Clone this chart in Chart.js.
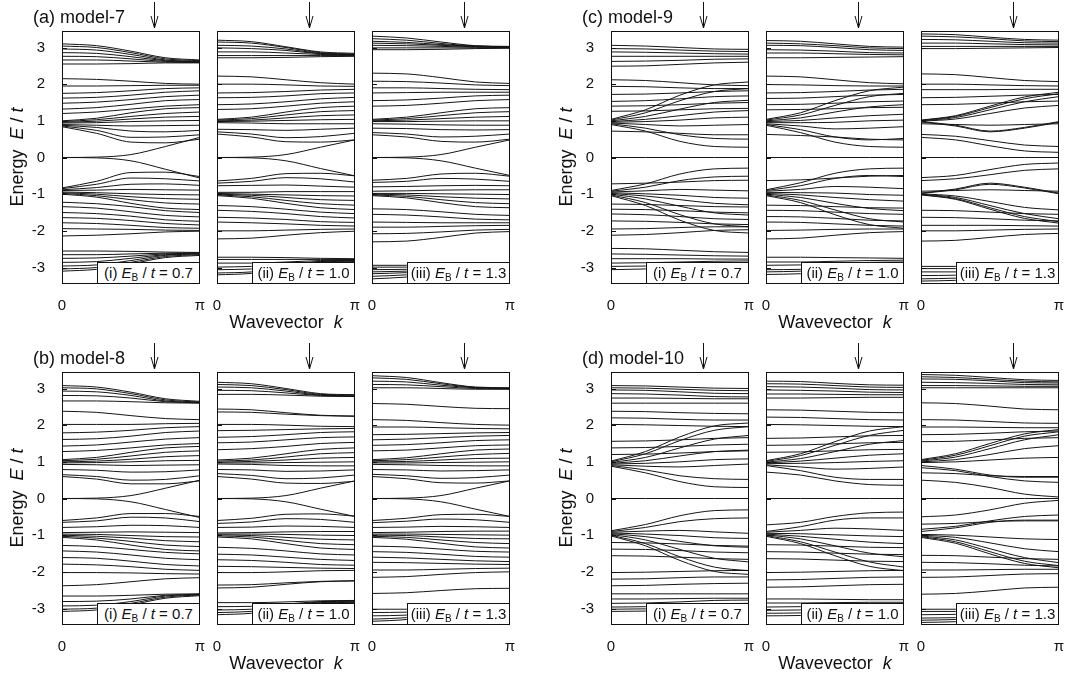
<!DOCTYPE html>
<html><head><meta charset="utf-8">
<script src="https://cdn.jsdelivr.net/npm/chart.js@4"></script>
<style>
html,body{margin:0;padding:0;background:#fff;}
body{width:1072px;height:683px;position:relative;overflow:hidden;font-family:"Liberation Sans",Arial,Helvetica,sans-serif;color:#111;}
canvas{position:absolute;}
.t{position:absolute;white-space:nowrap;line-height:1;z-index:6;}
.title{font-size:18px;}
.ylab{font-size:18px;transform:translate(-50%,-50%) rotate(-90deg);}
.xlab{font-size:18px;transform:translate(-50%,-50%);}
.box{position:absolute;background:#fff;border:1px solid #111;box-sizing:border-box;font-size:15px;line-height:20px;text-align:center;z-index:5;white-space:nowrap;}
.box sub{font-size:10px;vertical-align:-3px;line-height:0;}
</style></head><body>
<script>
// ---------- data ----------
const kPoints = [0, 0.7854, 1.5708, 2.3562, 3.1416];
const kTickValues = [0, 3.14159265];
const kTickLabels = ['0', 'π'];
const eTicks = [-3, -2, -1, 0, 1, 2, 3];
const arrowK = 2.0944;
const panelNames = ['(i)', '(ii)', '(iii)'];
const ebValues = ['0.7', '1.0', '1.3'];
const groupTitles = ['(a) model-7', '(c) model-9', '(b) model-8', '(d) model-10'];

const model7_EB07 = [
[3.10,3.05,2.90,2.72,2.66],[3.04,3.00,2.86,2.69,2.64],[2.96,2.93,2.81,2.66,2.62],[2.86,2.84,2.75,2.64,2.61],
[2.76,2.75,2.69,2.62,2.60],[2.66,2.66,2.63,2.60,2.59],[2.55,2.55,2.56,2.58,2.58],[2.15,2.13,2.08,2.02,2.00],
[1.95,1.95,1.96,1.97,1.97],[1.75,1.77,1.82,1.88,1.90],[1.62,1.64,1.70,1.78,1.82],[1.48,1.51,1.58,1.66,1.70],
[1.32,1.36,1.45,1.55,1.58],[1.20,1.24,1.32,1.40,1.44],[1.00,1.07,1.22,1.33,1.36],[0.98,1.03,1.12,1.20,1.24],
[0.96,0.99,1.05,1.10,1.12],[0.94,0.95,0.98,1.00,1.01],[0.90,0.88,0.86,0.87,0.88],[0.88,0.82,0.72,0.70,0.74],
[0.86,0.74,0.55,0.56,0.62],[0.84,0.66,0.42,0.40,0.50],[0.00,0.01,0.08,0.30,0.55],
[0.00,-0.01,-0.09,-0.32,-0.56],[-0.83,-0.65,-0.41,-0.40,-0.52],[-0.85,-0.73,-0.56,-0.58,-0.64],[-0.88,-0.82,-0.73,-0.72,-0.76],
[-0.90,-0.89,-0.87,-0.88,-0.89],[-0.94,-0.96,-0.99,-1.01,-1.02],[-0.96,-1.00,-1.07,-1.12,-1.14],[-0.98,-1.04,-1.15,-1.24,-1.27],
[-1.00,-1.08,-1.25,-1.38,-1.42],[-1.22,-1.26,-1.34,-1.45,-1.50],[-1.34,-1.38,-1.48,-1.58,-1.62],[-1.50,-1.53,-1.60,-1.70,-1.74],
[-1.64,-1.66,-1.72,-1.80,-1.84],[-1.78,-1.80,-1.85,-1.91,-1.93],[-1.94,-1.95,-1.96,-1.98,-1.99],[-2.14,-2.12,-2.08,-2.03,-2.01],
[-2.55,-2.55,-2.56,-2.58,-2.59],[-2.65,-2.65,-2.63,-2.61,-2.60],[-2.75,-2.74,-2.69,-2.63,-2.61],[-2.86,-2.84,-2.75,-2.65,-2.62],
[-2.96,-2.93,-2.81,-2.67,-2.63],[-3.04,-3.00,-2.86,-2.70,-2.65],[-3.10,-3.05,-2.90,-2.73,-2.67]
];
const model7_EB10 = [
[3.20,3.16,3.02,2.88,2.84],[3.15,3.12,3.00,2.86,2.82],[3.06,3.04,2.96,2.84,2.81],[2.99,2.97,2.92,2.83,2.80],
[2.88,2.88,2.85,2.81,2.79],[2.78,2.78,2.78,2.78,2.78],[2.72,2.72,2.73,2.75,2.76],[2.22,2.20,2.12,2.04,2.00],
[2.00,2.00,1.98,1.95,1.94],[1.76,1.77,1.80,1.84,1.86],[1.63,1.64,1.68,1.74,1.76],[1.44,1.46,1.52,1.60,1.64],
[1.31,1.33,1.40,1.48,1.52],[1.04,1.10,1.24,1.36,1.40],[1.02,1.06,1.16,1.25,1.28],[1.00,1.02,1.08,1.14,1.16],
[0.98,0.99,1.01,1.03,1.04],[0.95,0.94,0.92,0.92,0.92],[0.77,0.76,0.74,0.77,0.80],[0.70,0.64,0.54,0.57,0.66],
[0.64,0.56,0.43,0.42,0.48],[0.00,0.01,0.08,0.28,0.48],
[0.00,-0.01,-0.09,-0.30,-0.50],[-0.64,-0.57,-0.44,-0.43,-0.50],[-0.70,-0.65,-0.55,-0.58,-0.67],[-0.77,-0.76,-0.75,-0.78,-0.81],
[-0.95,-0.95,-0.93,-0.93,-0.93],[-0.98,-1.00,-1.02,-1.04,-1.05],[-1.00,-1.03,-1.09,-1.15,-1.17],[-1.02,-1.07,-1.17,-1.26,-1.30],
[-1.04,-1.11,-1.25,-1.37,-1.42],[-1.31,-1.34,-1.41,-1.49,-1.53],[-1.44,-1.47,-1.53,-1.61,-1.65],[-1.63,-1.65,-1.69,-1.75,-1.77],
[-1.76,-1.78,-1.81,-1.85,-1.87],[-2.00,-2.00,-1.98,-1.96,-1.95],[-2.22,-2.20,-2.12,-2.05,-2.01],[-2.72,-2.72,-2.73,-2.75,-2.76],
[-2.78,-2.78,-2.78,-2.78,-2.78],[-2.88,-2.88,-2.85,-2.81,-2.79],[-2.99,-2.97,-2.92,-2.83,-2.80],[-3.06,-3.04,-2.96,-2.84,-2.81],
[-3.15,-3.12,-3.00,-2.86,-2.82],[-3.20,-3.16,-3.02,-2.88,-2.84]
];
const model7_EB13 = [
[3.31,3.26,3.15,3.05,3.03],[3.24,3.20,3.11,3.04,3.02],[3.17,3.14,3.08,3.03,3.01],[3.12,3.10,3.06,3.02,3.00],
[3.06,3.05,3.03,3.01,3.00],[2.99,2.99,2.99,2.99,2.99],[2.94,2.94,2.95,2.97,2.98],[2.30,2.28,2.18,2.06,2.02],
[2.08,2.07,2.03,1.98,1.96],[1.90,1.90,1.88,1.86,1.85],[1.76,1.77,1.78,1.78,1.78],[1.55,1.57,1.62,1.68,1.70],
[1.40,1.42,1.48,1.55,1.58],[1.04,1.10,1.22,1.33,1.36],[1.02,1.06,1.14,1.22,1.25],[1.00,1.02,1.06,1.10,1.12],
[0.98,0.98,0.99,1.00,1.00],[0.92,0.91,0.89,0.88,0.88],[0.80,0.79,0.76,0.75,0.76],[0.68,0.64,0.56,0.58,0.64],
[0.62,0.56,0.44,0.42,0.50],[0.00,0.01,0.08,0.28,0.48],
[0.00,-0.01,-0.09,-0.29,-0.49],[-0.62,-0.57,-0.45,-0.43,-0.51],[-0.68,-0.65,-0.57,-0.59,-0.65],[-0.80,-0.79,-0.77,-0.76,-0.77],
[-0.92,-0.91,-0.89,-0.88,-0.88],[-0.98,-0.98,-0.99,-1.00,-1.01],[-1.00,-1.02,-1.07,-1.11,-1.13],[-1.02,-1.06,-1.15,-1.23,-1.26],
[-1.04,-1.10,-1.23,-1.34,-1.37],[-1.40,-1.42,-1.48,-1.55,-1.58],[-1.55,-1.57,-1.62,-1.68,-1.70],[-1.76,-1.77,-1.78,-1.78,-1.78],
[-1.90,-1.90,-1.88,-1.86,-1.85],[-2.08,-2.07,-2.03,-1.98,-1.96],[-2.30,-2.28,-2.18,-2.06,-2.02],[-2.94,-2.94,-2.95,-2.97,-2.98],
[-2.99,-2.99,-2.99,-2.99,-2.99],[-3.06,-3.05,-3.03,-3.01,-3.00],[-3.12,-3.10,-3.06,-3.02,-3.00],[-3.17,-3.14,-3.08,-3.03,-3.01],
[-3.24,-3.20,-3.11,-3.04,-3.02],[-3.31,-3.26,-3.15,-3.05,-3.03]
];
const model8_EB07 = [
[3.08,3.04,2.90,2.72,2.65],[3.02,2.99,2.86,2.69,2.63],[2.93,2.91,2.81,2.66,2.62],[2.81,2.80,2.74,2.64,2.61],
[2.66,2.66,2.64,2.61,2.60],[2.38,2.35,2.26,2.18,2.15],[2.02,2.02,2.02,2.04,2.05],[1.79,1.81,1.86,1.93,1.96],
[1.61,1.63,1.70,1.80,1.84],[1.43,1.46,1.54,1.62,1.66],[1.28,1.31,1.38,1.46,1.50],[1.06,1.12,1.26,1.38,1.42],
[1.03,1.07,1.16,1.26,1.30],[1.00,1.02,1.07,1.14,1.17],[0.97,0.98,1.00,1.03,1.04],[0.93,0.92,0.90,0.91,0.92],
[0.79,0.77,0.72,0.73,0.78],[0.65,0.60,0.50,0.52,0.62],[0.60,0.53,0.40,0.40,0.48],[0.00,0.01,0.08,0.28,0.50],
[0.00,-0.01,-0.09,-0.30,-0.52],[-0.60,-0.53,-0.41,-0.41,-0.49],[-0.65,-0.61,-0.51,-0.53,-0.63],[-0.79,-0.77,-0.73,-0.74,-0.79],
[-0.93,-0.92,-0.91,-0.92,-0.93],[-0.97,-0.98,-1.01,-1.04,-1.05],[-1.00,-1.03,-1.08,-1.15,-1.18],[-1.03,-1.08,-1.17,-1.27,-1.31],
[-1.06,-1.13,-1.27,-1.39,-1.43],[-1.28,-1.31,-1.39,-1.47,-1.51],[-1.43,-1.46,-1.54,-1.63,-1.67],[-1.61,-1.63,-1.71,-1.80,-1.84],
[-1.79,-1.81,-1.86,-1.93,-1.96],[-2.02,-2.02,-2.03,-2.05,-2.06],[-2.38,-2.35,-2.27,-2.19,-2.16],[-2.66,-2.66,-2.64,-2.61,-2.60],
[-2.81,-2.80,-2.74,-2.64,-2.61],[-2.93,-2.91,-2.81,-2.66,-2.62],[-3.02,-2.99,-2.86,-2.69,-2.63],[-3.08,-3.04,-2.90,-2.72,-2.65]
];
const model8_EB10 = [
[3.17,3.13,3.00,2.86,2.83],[3.11,3.08,2.97,2.84,2.82],[3.04,3.02,2.93,2.82,2.80],[2.95,2.94,2.88,2.81,2.79],
[2.84,2.84,2.82,2.79,2.78],[2.44,2.42,2.34,2.27,2.25],[2.36,2.35,2.30,2.26,2.24],[2.02,2.02,2.00,1.97,1.96],
[1.85,1.86,1.88,1.90,1.91],[1.67,1.69,1.74,1.80,1.82],[1.52,1.54,1.60,1.66,1.68],[1.33,1.36,1.42,1.50,1.53],
[1.05,1.10,1.22,1.34,1.38],[1.02,1.05,1.13,1.22,1.25],[0.99,1.01,1.05,1.10,1.12],[0.97,0.97,0.98,0.99,1.00],
[0.94,0.93,0.90,0.89,0.89],[0.79,0.78,0.74,0.75,0.78],[0.68,0.63,0.54,0.56,0.64],[0.60,0.53,0.42,0.41,0.47],
[0.00,0.01,0.08,0.28,0.48],
[0.00,-0.01,-0.09,-0.29,-0.49],[-0.60,-0.54,-0.43,-0.42,-0.48],[-0.68,-0.64,-0.55,-0.57,-0.65],[-0.79,-0.78,-0.75,-0.76,-0.79],
[-0.94,-0.93,-0.91,-0.90,-0.90],[-0.97,-0.97,-0.98,-1.00,-1.01],[-0.99,-1.01,-1.06,-1.11,-1.13],[-1.02,-1.05,-1.14,-1.23,-1.26],
[-1.05,-1.10,-1.23,-1.35,-1.39],[-1.33,-1.36,-1.43,-1.51,-1.54],[-1.52,-1.54,-1.60,-1.66,-1.69],[-1.67,-1.69,-1.74,-1.80,-1.82],
[-1.85,-1.86,-1.88,-1.90,-1.91],[-2.02,-2.02,-2.00,-1.97,-1.96],[-2.36,-2.35,-2.30,-2.26,-2.24],[-2.44,-2.42,-2.34,-2.27,-2.25],
[-2.84,-2.84,-2.82,-2.79,-2.78],[-2.95,-2.94,-2.88,-2.81,-2.79],[-3.04,-3.02,-2.93,-2.82,-2.80],[-3.11,-3.08,-2.97,-2.84,-2.82],
[-3.17,-3.13,-3.00,-2.86,-2.83]
];
const model8_EB13 = [
[3.35,3.30,3.16,3.04,3.02],[3.29,3.25,3.13,3.03,3.01],[3.20,3.18,3.09,3.02,3.00],[3.11,3.10,3.05,3.00,2.99],
[3.02,3.02,3.00,2.98,2.98],[2.59,2.57,2.51,2.46,2.45],[2.15,2.13,2.07,2.02,2.00],[1.95,1.95,1.93,1.91,1.90],
[1.74,1.75,1.77,1.79,1.80],[1.60,1.62,1.66,1.70,1.72],[1.45,1.47,1.52,1.58,1.60],[1.30,1.32,1.38,1.44,1.46],
[1.06,1.11,1.22,1.32,1.35],[1.03,1.06,1.13,1.20,1.23],[1.00,1.01,1.05,1.09,1.10],[0.97,0.97,0.98,0.99,1.00],
[0.93,0.92,0.90,0.89,0.89],[0.79,0.78,0.75,0.76,0.78],[0.66,0.62,0.55,0.57,0.64],[0.60,0.54,0.43,0.42,0.48],
[0.00,0.01,0.08,0.28,0.48],
[0.00,-0.01,-0.09,-0.29,-0.49],[-0.60,-0.54,-0.44,-0.43,-0.49],[-0.66,-0.62,-0.56,-0.58,-0.65],[-0.79,-0.78,-0.76,-0.77,-0.79],
[-0.93,-0.92,-0.90,-0.89,-0.89],[-0.97,-0.97,-0.98,-0.99,-1.00],[-1.00,-1.01,-1.05,-1.09,-1.10],[-1.03,-1.06,-1.13,-1.20,-1.23],
[-1.06,-1.11,-1.22,-1.32,-1.35],[-1.30,-1.32,-1.38,-1.44,-1.46],[-1.45,-1.47,-1.52,-1.58,-1.60],[-1.60,-1.62,-1.66,-1.70,-1.72],
[-1.74,-1.75,-1.77,-1.79,-1.80],[-1.95,-1.95,-1.93,-1.91,-1.90],[-2.15,-2.13,-2.07,-2.02,-2.00],[-2.59,-2.57,-2.51,-2.46,-2.45],
[-3.02,-3.02,-3.00,-2.98,-2.98],[-3.11,-3.10,-3.05,-3.00,-2.99],[-3.20,-3.18,-3.09,-3.02,-3.00],[-3.29,-3.25,-3.13,-3.03,-3.01],
[-3.35,-3.30,-3.16,-3.04,-3.02]
];
const model9_EB07 = [
[3.06,3.04,3.00,2.96,2.95],[2.97,2.96,2.93,2.90,2.89],[2.88,2.87,2.85,2.83,2.82],[2.76,2.76,2.76,2.76,2.76],
[2.62,2.63,2.65,2.68,2.69],[2.49,2.50,2.54,2.58,2.60],[2.12,2.10,2.04,1.98,1.96],[1.94,1.93,1.90,1.88,1.88],
[1.72,1.73,1.76,1.80,1.82],[1.53,1.55,1.60,1.66,1.68],[1.40,1.41,1.44,1.48,1.50],[1.26,1.27,1.30,1.33,1.34],
[1.04,1.30,1.70,1.98,2.06],[1.02,1.22,1.55,1.80,1.88],[1.00,1.12,1.32,1.50,1.56],[0.98,1.04,1.14,1.24,1.28],
[0.96,0.98,1.02,1.08,1.10],[0.94,0.90,0.86,0.88,0.90],[0.92,0.80,0.62,0.52,0.50],[0.90,0.72,0.44,0.30,0.28],
[0.72,0.70,0.66,0.62,0.62],[0.00,0.00,0.00,0.00,0.00],
[-0.72,-0.70,-0.67,-0.63,-0.62],[-0.90,-0.72,-0.45,-0.31,-0.29],[-0.92,-0.81,-0.63,-0.53,-0.51],[-0.94,-0.91,-0.87,-0.89,-0.91],
[-0.96,-0.99,-1.03,-1.09,-1.11],[-0.98,-1.05,-1.15,-1.25,-1.29],[-1.00,-1.13,-1.33,-1.51,-1.57],[-1.02,-1.23,-1.56,-1.81,-1.89],
[-1.04,-1.31,-1.71,-1.99,-2.06],[-1.27,-1.28,-1.31,-1.34,-1.35],[-1.41,-1.42,-1.45,-1.49,-1.51],[-1.54,-1.56,-1.61,-1.67,-1.69],
[-1.73,-1.74,-1.77,-1.81,-1.83],[-1.95,-1.94,-1.91,-1.89,-1.89],[-2.12,-2.10,-2.05,-1.99,-1.97],[-2.48,-2.49,-2.53,-2.57,-2.59],
[-2.63,-2.64,-2.66,-2.68,-2.69],[-2.76,-2.76,-2.76,-2.77,-2.77],[-2.88,-2.87,-2.85,-2.83,-2.82],[-2.97,-2.96,-2.93,-2.90,-2.89],
[-3.06,-3.04,-3.00,-2.96,-2.95]
];
const model9_EB10 = [
[3.19,3.17,3.10,3.03,3.01],[3.12,3.10,3.05,2.99,2.97],[3.06,3.05,3.00,2.94,2.92],[2.94,2.93,2.90,2.86,2.85],
[2.85,2.85,2.83,2.81,2.80],[2.72,2.72,2.73,2.74,2.75],[2.22,2.20,2.12,2.04,2.01],[1.99,1.98,1.96,1.95,1.95],
[1.76,1.77,1.80,1.84,1.86],[1.61,1.62,1.66,1.70,1.72],[1.44,1.45,1.48,1.52,1.54],[1.30,1.31,1.33,1.36,1.37],
[1.04,1.22,1.55,1.82,1.92],[1.02,1.16,1.42,1.66,1.75],[1.00,1.08,1.24,1.38,1.44],[0.98,1.01,1.08,1.14,1.18],
[0.95,0.95,0.96,1.00,1.02],[0.92,0.86,0.78,0.80,0.84],[0.90,0.76,0.56,0.48,0.52],[0.88,0.68,0.42,0.30,0.28],
[0.63,0.60,0.56,0.50,0.48],[0.00,0.00,0.00,0.00,0.00],
[-0.63,-0.61,-0.56,-0.51,-0.49],[-0.88,-0.69,-0.43,-0.31,-0.29],[-0.90,-0.77,-0.57,-0.49,-0.52],[-0.92,-0.87,-0.79,-0.81,-0.85],
[-0.95,-0.96,-0.97,-1.01,-1.03],[-0.98,-1.02,-1.09,-1.15,-1.19],[-1.00,-1.09,-1.25,-1.39,-1.45],[-1.02,-1.17,-1.43,-1.67,-1.76],
[-1.04,-1.23,-1.56,-1.83,-1.93],[-1.30,-1.31,-1.34,-1.37,-1.38],[-1.44,-1.45,-1.49,-1.53,-1.55],[-1.61,-1.62,-1.66,-1.71,-1.73],
[-1.76,-1.77,-1.81,-1.85,-1.87],[-1.99,-1.98,-1.96,-1.95,-1.95],[-2.22,-2.20,-2.12,-2.05,-2.02],[-2.72,-2.72,-2.73,-2.74,-2.75],
[-2.85,-2.85,-2.83,-2.81,-2.80],[-2.94,-2.93,-2.90,-2.86,-2.85],[-3.06,-3.05,-3.00,-2.94,-2.92],[-3.12,-3.10,-3.05,-2.99,-2.97],
[-3.19,-3.17,-3.10,-3.03,-3.01]
];
const model9_EB13 = [
[3.37,3.35,3.28,3.22,3.20],[3.31,3.29,3.24,3.18,3.16],[3.22,3.21,3.17,3.13,3.12],[3.12,3.12,3.10,3.08,3.07],
[3.03,3.03,3.03,3.03,3.03],[2.97,2.97,2.98,2.99,3.00],[2.28,2.26,2.18,2.10,2.07],[2.00,2.00,1.98,1.96,1.95],
[1.85,1.85,1.85,1.86,1.86],[1.63,1.64,1.67,1.70,1.72],[1.44,1.45,1.48,1.52,1.54],[1.02,1.14,1.40,1.65,1.78],
[1.01,1.12,1.36,1.60,1.74],[1.00,1.09,1.30,1.52,1.66],[0.99,1.05,1.20,1.35,1.42],[0.98,0.88,0.72,0.82,0.98],
[0.97,0.86,0.70,0.80,0.96],[0.92,0.90,0.88,0.90,0.92],[0.63,0.58,0.46,0.34,0.30],[0.55,0.48,0.32,0.18,0.14],
[0.00,0.00,0.00,0.00,0.00],
[-0.55,-0.49,-0.33,-0.19,-0.15],[-0.63,-0.58,-0.47,-0.35,-0.31],[-0.92,-0.90,-0.88,-0.90,-0.92],[-0.97,-0.86,-0.70,-0.81,-0.97],
[-0.98,-0.88,-0.73,-0.83,-0.99],[-0.99,-1.05,-1.20,-1.36,-1.43],[-1.00,-1.09,-1.31,-1.53,-1.67],[-1.01,-1.12,-1.37,-1.61,-1.75],
[-1.02,-1.14,-1.41,-1.66,-1.79],[-1.44,-1.45,-1.49,-1.53,-1.55],[-1.63,-1.64,-1.67,-1.71,-1.73],[-1.85,-1.85,-1.85,-1.86,-1.87],
[-2.00,-2.00,-1.98,-1.96,-1.95],[-2.28,-2.26,-2.18,-2.10,-2.07],[-2.97,-2.97,-2.98,-2.99,-3.00],[-3.03,-3.03,-3.03,-3.03,-3.03],
[-3.12,-3.12,-3.10,-3.08,-3.07],[-3.22,-3.21,-3.17,-3.13,-3.12],[-3.31,-3.29,-3.24,-3.18,-3.16],[-3.37,-3.35,-3.28,-3.22,-3.20]
];
const model10_EB07 = [
[3.08,3.07,3.04,3.01,3.00],[3.02,3.01,2.98,2.95,2.94],[2.96,2.95,2.91,2.87,2.86],[2.86,2.85,2.82,2.78,2.77],
[2.74,2.74,2.73,2.72,2.72],[2.60,2.60,2.60,2.60,2.60],[2.38,2.37,2.34,2.32,2.31],[2.20,2.19,2.16,2.14,2.14],
[2.02,2.01,1.99,1.97,1.96],[1.56,1.57,1.60,1.64,1.66],[1.38,1.39,1.42,1.46,1.48],[1.20,1.21,1.24,1.28,1.30],
[1.02,1.28,1.68,1.98,2.06],[1.00,1.22,1.58,1.86,1.96],[0.98,1.12,1.38,1.62,1.72],[0.96,1.03,1.16,1.28,1.32],
[0.94,0.96,1.00,1.06,1.08],[0.92,0.88,0.86,0.90,0.94],[0.90,0.78,0.62,0.54,0.52],[0.88,0.70,0.46,0.32,0.30],
[0.00,0.00,0.00,0.00,0.00],
[-0.88,-0.71,-0.47,-0.33,-0.31],[-0.90,-0.79,-0.63,-0.55,-0.53],[-0.92,-0.89,-0.87,-0.91,-0.95],[-0.94,-0.97,-1.01,-1.07,-1.09],
[-0.96,-1.04,-1.17,-1.29,-1.33],[-0.98,-1.13,-1.39,-1.63,-1.73],[-1.00,-1.23,-1.59,-1.87,-1.97],[-1.02,-1.29,-1.69,-1.99,-2.07],
[-1.20,-1.21,-1.24,-1.28,-1.30],[-1.38,-1.39,-1.42,-1.46,-1.48],[-1.56,-1.57,-1.60,-1.64,-1.66],[-2.02,-2.01,-1.99,-1.97,-1.96],
[-2.20,-2.19,-2.16,-2.14,-2.14],[-2.38,-2.37,-2.34,-2.32,-2.31],[-2.60,-2.60,-2.60,-2.60,-2.60],[-2.74,-2.74,-2.73,-2.72,-2.72],
[-2.86,-2.85,-2.82,-2.78,-2.77],[-2.96,-2.95,-2.91,-2.87,-2.86],[-3.02,-3.01,-2.98,-2.95,-2.94],[-3.08,-3.07,-3.04,-3.01,-3.00]
];
const model10_EB10 = [
[3.20,3.19,3.14,3.10,3.09],[3.13,3.12,3.08,3.04,3.03],[3.05,3.04,3.01,2.97,2.96],[2.96,2.95,2.93,2.90,2.89],
[2.85,2.85,2.84,2.83,2.83],[2.74,2.74,2.75,2.76,2.76],[2.42,2.41,2.38,2.35,2.34],[2.22,2.21,2.18,2.15,2.14],
[2.02,2.01,1.99,1.97,1.96],[1.64,1.65,1.68,1.71,1.72],[1.45,1.46,1.49,1.52,1.53],[1.26,1.27,1.30,1.33,1.34],
[1.03,1.22,1.55,1.84,1.96],[1.01,1.17,1.45,1.72,1.86],[0.99,1.09,1.28,1.48,1.58],[0.97,1.02,1.10,1.18,1.22],
[0.95,0.96,0.98,1.01,1.03],[0.92,0.86,0.80,0.82,0.86],[0.90,0.76,0.58,0.52,0.52],[0.72,0.64,0.48,0.38,0.36],
[0.00,0.00,0.00,0.00,0.00],
[-0.72,-0.65,-0.49,-0.39,-0.37],[-0.90,-0.77,-0.59,-0.53,-0.53],[-0.92,-0.87,-0.81,-0.83,-0.87],[-0.95,-0.96,-0.99,-1.02,-1.04],
[-0.97,-1.03,-1.11,-1.19,-1.23],[-0.99,-1.10,-1.29,-1.49,-1.59],[-1.01,-1.18,-1.46,-1.73,-1.87],[-1.03,-1.23,-1.56,-1.85,-1.97],
[-1.26,-1.27,-1.30,-1.33,-1.34],[-1.45,-1.46,-1.49,-1.52,-1.53],[-1.64,-1.65,-1.68,-1.71,-1.72],[-2.02,-2.01,-1.99,-1.97,-1.96],
[-2.22,-2.21,-2.18,-2.15,-2.14],[-2.42,-2.41,-2.38,-2.35,-2.34],[-2.74,-2.74,-2.75,-2.76,-2.76],[-2.85,-2.85,-2.84,-2.83,-2.83],
[-2.96,-2.95,-2.93,-2.90,-2.89],[-3.05,-3.04,-3.01,-2.97,-2.96],[-3.13,-3.12,-3.08,-3.04,-3.03],[-3.20,-3.19,-3.14,-3.10,-3.09]
];
const model10_EB13 = [
[3.38,3.36,3.30,3.24,3.22],[3.32,3.30,3.25,3.20,3.18],[3.26,3.25,3.21,3.16,3.15],[3.17,3.16,3.14,3.11,3.10],
[3.08,3.08,3.07,3.06,3.06],[3.02,3.02,3.02,3.02,3.02],[2.61,2.59,2.52,2.44,2.42],[2.15,2.14,2.10,2.06,2.05],
[1.95,1.95,1.94,1.93,1.93],[1.74,1.75,1.78,1.82,1.84],[1.55,1.56,1.60,1.64,1.66],[1.06,1.22,1.50,1.76,1.88],
[1.04,1.18,1.44,1.70,1.82],[1.02,1.13,1.36,1.60,1.74],[1.00,1.06,1.20,1.36,1.44],[0.98,1.00,1.05,1.10,1.12],
[0.90,0.80,0.64,0.58,0.58],[0.84,0.76,0.60,0.48,0.44],[0.70,0.68,0.62,0.60,0.60],[0.50,0.44,0.30,0.12,0.04],
[0.00,0.00,0.00,0.00,0.00],
[-0.50,-0.45,-0.31,-0.13,-0.05],[-0.70,-0.68,-0.63,-0.61,-0.61],[-0.84,-0.76,-0.61,-0.49,-0.45],[-0.90,-0.80,-0.65,-0.59,-0.59],
[-0.98,-1.00,-1.05,-1.10,-1.12],[-1.00,-1.06,-1.21,-1.37,-1.45],[-1.02,-1.13,-1.37,-1.61,-1.75],[-1.04,-1.18,-1.45,-1.71,-1.83],
[-1.06,-1.22,-1.51,-1.77,-1.89],[-1.55,-1.56,-1.60,-1.64,-1.66],[-1.74,-1.75,-1.78,-1.82,-1.84],[-1.95,-1.95,-1.94,-1.93,-1.93],
[-2.15,-2.14,-2.10,-2.06,-2.05],[-2.61,-2.59,-2.52,-2.44,-2.42],[-3.02,-3.02,-3.02,-3.02,-3.02],[-3.08,-3.08,-3.07,-3.06,-3.06],
[-3.17,-3.16,-3.14,-3.11,-3.10],[-3.26,-3.25,-3.21,-3.16,-3.15],[-3.32,-3.30,-3.25,-3.20,-3.18],[-3.38,-3.36,-3.30,-3.24,-3.22]
];

// ---------- layout ----------
const PW = 138, PH = 253, LM = 50, TM = 31, BM = 30, RM = 10;
const groups = [
  {title: groupTitles[0], left: 62,  top: 31,  panels: [model7_EB07, model7_EB10, model7_EB13]},
  {title: groupTitles[1], left: 611, top: 31,  panels: [model9_EB07, model9_EB10, model9_EB13]},
  {title: groupTitles[2], left: 62,  top: 372, panels: [model8_EB07, model8_EB10, model8_EB13]},
  {title: groupTitles[3], left: 611, top: 372, panels: [model10_EB07, model10_EB10, model10_EB13]}
];

Chart.defaults.font.family = '"Liberation Sans", Arial, Helvetica, sans-serif';
Chart.defaults.font.size = 15;
Chart.defaults.color = '#111';

const framePlugin = {
  id: 'frame',
  afterDatasetsDraw(chart) {
    const {ctx, chartArea: a, scales: {x, y}} = chart;
    ctx.save();
    ctx.strokeStyle = '#111';
    ctx.lineWidth = 1;
    ctx.strokeRect(Math.round(a.left) + 0.5, Math.round(a.top) + 0.5, Math.round(a.width) - 1, Math.round(a.height) - 1);
    ctx.beginPath();
    eTicks.forEach(v => {
      const py = Math.round(y.getPixelForValue(v)) + 0.5;
      ctx.moveTo(a.left, py); ctx.lineTo(a.left + 5, py);
    });
    ctx.stroke();
    const ax = Math.round(x.getPixelForValue(arrowK)) + 0.5;
    ctx.beginPath();
    ctx.moveTo(ax, 2); ctx.lineTo(ax, a.top - 3);
    ctx.moveTo(ax - 3.5, a.top - 15); ctx.lineTo(ax, a.top - 3); ctx.lineTo(ax + 3.5, a.top - 15);
    ctx.stroke();
    ctx.restore();
  }
};

function addText(cls, html, left, top) {
  const d = document.createElement('div');
  d.className = 't ' + cls;
  d.innerHTML = html;
  d.style.left = left + 'px';
  d.style.top = top + 'px';
  document.body.appendChild(d);
}

groups.forEach(g => {
  addText('title', g.title, g.left - 29, g.top - 23);
  addText('ylab', 'Energy&nbsp;&nbsp;<i>E</i> / <i>t</i>', g.left - 45, g.top + 126);
  addText('xlab', 'Wavevector&nbsp;&nbsp;<i>k</i>', g.left + 155 + PW / 2, g.top + 291);
  g.panels.forEach((bands, i) => {
    const pl = g.left + i * 155;
    const cv = document.createElement('canvas');
    const W = LM + PW + RM, H = TM + PH + BM;
    cv.width = W; cv.height = H;
    cv.style.left = (pl - LM) + 'px';
    cv.style.top = (g.top - TM) + 'px';
    cv.style.width = W + 'px'; cv.style.height = H + 'px';
    document.body.appendChild(cv);
    const isFirst = i === 0;
    new Chart(cv, {
      type: 'line',
      data: {
        datasets: bands.map(b => ({
          data: b.map((e, j) => ({x: kPoints[j], y: e})),
          borderColor: '#151515', borderWidth: 1, pointRadius: 0,
          cubicInterpolationMode: 'monotone', fill: false
        }))
      },
      options: {
        responsive: false, animation: false, events: [],
        layout: {padding: {left: 0, top: TM, right: RM, bottom: 0}},
        plugins: {legend: {display: false}, tooltip: {enabled: false}},
        scales: {
          x: {type: 'linear', min: 0, max: Math.PI,
              afterBuildTicks: s => { s.ticks = kTickValues.map(v => ({value: v})); },
              afterFit: s => { s.height = BM; },
              grid: {display: false}, border: {display: false},
              ticks: {padding: 5, autoSkip: false, maxRotation: 0, callback: (v, idx) => kTickLabels[idx]}},
          y: {type: 'linear', min: -3.45, max: 3.45,
              afterBuildTicks: s => { s.ticks = eTicks.map(v => ({value: v})); },
              afterFit: s => { s.width = LM; },
              grid: {display: false}, border: {display: false},
              ticks: {display: isFirst, padding: 9, callback: v => String(v)}}
        }
      },
      plugins: [framePlugin]
    });
    const box = document.createElement('div');
    box.className = 'box';
    box.innerHTML = panelNames[i] + ' <i>E</i><sub>B</sub> / <i>t</i> = ' + ebValues[i];
    box.style.left = (pl + 35) + 'px';
    box.style.top = (g.top + PH - 22) + 'px';
    box.style.width = (PW - 35) + 'px';
    box.style.height = '22px';
    document.body.appendChild(box);
  });
});
</script>
</body></html>
